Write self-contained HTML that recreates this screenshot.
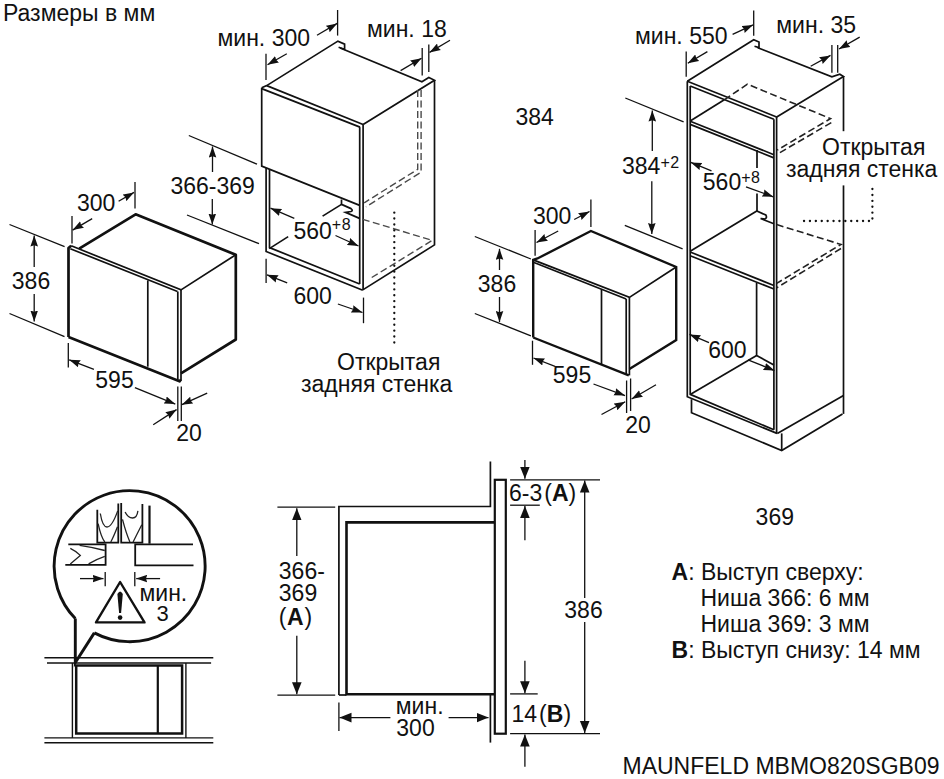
<!DOCTYPE html>
<html><head><meta charset="utf-8">
<style>
html,body{margin:0;padding:0;background:#fff;}
svg{display:block;}
text{font-family:"Liberation Sans",sans-serif;font-size:23px;fill:#111;}
tspan.s{font-size:16px;letter-spacing:0.6px;}
.t{stroke:#111;stroke-width:1.7;fill:none;}
.m{stroke:#111;stroke-width:1.3;fill:none;}
.k{stroke:#111;stroke-width:2.7;fill:none;stroke-linejoin:round;}
.d{stroke:#222;stroke-width:1.6;fill:none;stroke-dasharray:7 3.5;}
.o{stroke:#111;stroke-width:2.3;fill:none;stroke-dasharray:0.1 5.8;stroke-linecap:round;}
</style></head>
<body>
<svg width="944" height="779" viewBox="0 0 944 779">
<defs>
<marker id="a" markerUnits="userSpaceOnUse" markerWidth="12" markerHeight="8" refX="11" refY="3.8" orient="auto" viewBox="0 0 12 7.6">
<path d="M11,3.8 L0,0 L1.2,3.8 L0,7.6 Z" fill="#111"/>
</marker>
<marker id="b" markerUnits="userSpaceOnUse" markerWidth="14" markerHeight="11" refX="12" refY="4.8" orient="auto" viewBox="0 0 14 9.6">
<path d="M12,4.8 L0,0 L0,9.6 Z" fill="#111"/>
</marker>
</defs>
<!-- header -->
<text x="3" y="20.8">Размеры в мм</text>

<!-- ========== UPPER CABINET (top middle) ========== -->
<g class="t">
  <path d="M261.7,87.8 L266.7,85.6 L337.9,41.1 L344.6,44.1 L344.6,49.3 L338.6,47.3"/>
  <path d="M340.2,48 L421.9,81.7 L428.8,77.5 L434.5,80.3 L363.1,124.5"/>
  <path d="M266.7,85.6 L363.1,124.5"/>
  <path d="M261.7,88.6 L360,127.1"/>
  <path d="M261.7,87.8 V166.1 L359.7,205.4"/>
  <path d="M359.7,127.1 V284"/>
  <path d="M363.1,124.5 V289.9"/>
  <path d="M434.5,80.3 V244.9 L362.8,289.9"/>
  <path d="M266.1,168 V251.5 L362.8,290.2"/>
  <path d="M269.5,169.5 V247.6 L359.7,284"/>
  <path d="M341.5,199.5 V204.4 L351,208.6 Q353.5,210.5 351,211.5 L345.5,212.4 L359.5,218.4"/>
  <path d="M341.5,204.4 L322.6,216.1"/>
  <path d="M269.3,248.6 L288.2,236.6"/>
</g>
<g class="d" style="stroke:#4a4a4a;stroke-width:1.4">
  <path d="M417.7,90 V169.3 L364.2,202.8"/>
  <path d="M421.1,90 V172.2 L366,206.8"/>
  <path d="M362.8,219.3 L432.2,240.4 L369.3,279"/>
</g>
<path class="o" d="M394.3,212.6 V345"/>
<!-- dims upper cabinet -->
<text x="217.5" y="45.6">мин. 300</text>
<text x="367" y="36.7">мин. 18</text>
<g class="m">
  <path d="M337.6,10 V35.6"/>
  <path d="M317,35.3 L337.2,23.4" marker-end="url(#a)"/>
  <path d="M266,53.7 V80"/>
  <path d="M286.8,53.7 L267.5,64.7" marker-end="url(#a)"/>
  <path d="M422.2,47.9 V75.5"/>
  <path d="M428.8,44.5 V72"/>
  <path d="M400.6,70.6 L421.5,58.3" marker-end="url(#a)"/>
  <path d="M450,40.3 L429.5,52.4" marker-end="url(#a)"/>
  <path d="M188.8,135.5 L257,164.2"/>
  <path d="M187,215 L259,243.7"/>
  <path d="M212.5,172 V146.5" marker-end="url(#a)"/>
  <path d="M212.3,199 V224.6" marker-end="url(#a)"/>
  <path d="M294.3,218.4 L270.5,208.2" marker-end="url(#a)"/>
  <path d="M335.5,235.5 L358.5,246" marker-end="url(#a)"/>
  <path d="M266.1,258.7 V282.9"/>
  <path d="M287.2,282.9 L267,274.8" marker-end="url(#a)"/>
  <path d="M363.5,297.6 V323.2"/>
  <path d="M337.9,304 L362.5,312.5" marker-end="url(#a)"/>
</g>
<text x="170.5" y="193.8">366-369</text>
<text x="293.4" y="238.6">560<tspan class="s" dy="-9">+8</tspan></text>
<text x="293.5" y="303.5">600</text>
<text x="337" y="370">Открытая</text>
<text x="301" y="392">задняя стенка</text>

<!-- ========== LEFT MICROWAVE ========== -->
<g class="k">
  <path d="M68.5,337.1 V248 L71.2,245.8"/>
  <path d="M79.2,248.7 L135.6,214.3 L235.8,254.8 V339.5 L181,373.3"/>
  <path d="M68.5,337.1 L179.5,381.3 L181,379.5"/>
</g>
<g class="t">
  <path d="M71.2,245.8 L181,289.9 L235.8,254.8"/>
  <path d="M70.3,248.7 L177.5,291.5"/>
  <path d="M177.8,291.5 V381"/>
  <path d="M181,289.9 V380.5"/>
  <path d="M147.8,280.4 V366.7"/>
</g>
<g class="m">
  <path d="M135,182 V208.6"/>
  <path d="M118.6,201.2 L134,192.4" marker-end="url(#a)"/>
  <path d="M72,216 V243.6"/>
  <path d="M92.2,218.6 L72.6,230.1" marker-end="url(#a)"/>
  <path d="M9.5,224.5 L64.6,246.7"/>
  <path d="M9.5,313.5 L64.5,336.6"/>
  <path d="M34.2,267 V235.5" marker-end="url(#a)"/>
  <path d="M34.2,294 V321.5" marker-end="url(#a)"/>
  <path d="M68.3,343 V367.5"/>
  <path d="M93.9,369.4 L69.2,359.8" marker-end="url(#a)"/>
  <path d="M134.9,387.6 L175.3,404.1" marker-end="url(#a)"/>
  <path d="M177.8,386.5 V421"/>
  <path d="M181.3,386.5 V421"/>
  <path d="M153.2,424.7 L176.6,409.6" marker-end="url(#a)"/>
  <path d="M207.2,393.1 L181.8,404.7" marker-end="url(#a)"/>
</g>
<text x="77" y="211.2">300</text>
<text x="11.8" y="289">386</text>
<text x="95.3" y="387.7">595</text>
<text x="176.3" y="440.9">20</text>

<!-- ========== TALL CABINET ========== -->
<g class="t">
  <path d="M687.3,81.2 L753.7,39.7 L759,42 L759,47.5 L754.5,46.2"/>
  <path d="M757.7,47.7 L831.9,76.8 L839.8,74.2 L843.5,76.5 L776.3,117.2"/>
  <path d="M687.3,81.2 L776.6,117"/>
  <path d="M690.2,86 L773.9,119.3"/>
  <path d="M687.3,81.2 V396.8 L777,433.4"/>
  <path d="M690.2,86 V394.4 L773.9,429.8"/>
  <path d="M776.6,117 V433.4"/>
  <path d="M773.9,119.3 V429.8"/>
  <path d="M843.5,76.5 V131.2"/>
  <path d="M843.5,185.4 V413.9"/>
  <path d="M690.2,121.2 L773.9,154.7"/>
  <path d="M690.2,124.4 L773.9,157.9"/>
  <path d="M690.2,121 L724.3,99.8"/>
  <path d="M757,150 V168 M757,193.5 V211"/>
  <path d="M690.2,252 L773.9,285.5"/>
  <path d="M690.2,255.8 L773.9,289"/>
  <path d="M690.2,251.2 L756.8,211 L765.8,215 Q767.5,218 764.7,219 L760.6,218.5 L773.9,223.7"/>
  <path d="M756.6,283 V355.4 L773.9,365.1"/>
  <path d="M690.2,394.4 L756.6,355.4"/>
  <path d="M691.5,399.3 V412.7 L781.7,450.5 L842.5,413.9"/>
  <path d="M781.7,433.4 V450.5"/>
  <path d="M777.3,433.4 L843.5,395.6"/>
</g>
<g class="d">
  <path d="M724.3,99.8 L747.4,84.2 L830.5,118.6 L777.2,150.1"/>
  <path d="M831.3,122.6 L777.2,154.2"/>
  <path d="M776.7,224.6 L841,244.4 L776.7,283.4"/>
  <path d="M841,248.5 L776.7,287.8"/>
</g>
<path class="o" d="M804,221 H872.4 V185.6"/>
<text x="635" y="43.7">мин. 550</text>
<text x="776.3" y="33.1">мин. 35</text>
<text x="515.5" y="125.4">384</text>
<text x="622" y="173.9">384<tspan class="s" dy="-5.9">+2</tspan></text>
<text x="702.8" y="190.4">560<tspan class="s" dy="-7.6">+8</tspan></text>
<text x="822" y="155">Открытая</text>
<text x="786" y="177">задняя стенка</text>
<text x="708.2" y="357.8">600</text>
<g class="m">
  <path d="M753.7,10.6 V35.8"/>
  <path d="M732.6,34.4 L753,24.9" marker-end="url(#a)"/>
  <path d="M686.2,51.6 V76.8"/>
  <path d="M707.4,51.6 L687.8,63.3" marker-end="url(#a)"/>
  <path d="M831.9,45 V72.8"/>
  <path d="M837.7,45 V72.8"/>
  <path d="M810.7,66.2 L830.5,55.4" marker-end="url(#a)"/>
  <path d="M859.7,37.1 L839,49" marker-end="url(#a)"/>
  <path d="M625.3,98 L683.6,121.8"/>
  <path d="M624.8,225.4 L682.6,248.8"/>
  <path d="M652.3,151 V110.5" marker-end="url(#a)"/>
  <path d="M651.8,181.3 V234" marker-end="url(#a)"/>
  <path d="M711.5,170.8 L690.8,162.4" marker-end="url(#a)"/>
  <path d="M746,186.8 L773.3,196.8" marker-end="url(#a)"/>
  <path d="M709,342.7 L689.5,334.4" marker-end="url(#a)"/>
  <path d="M748,359.8 L774.5,370.6" marker-end="url(#a)"/>
</g>

<!-- ========== RIGHT MICROWAVE ========== -->
<g class="t" style="stroke-width:2.4">
  <path d="M533.2,337.5 V259.9 L537.5,258.5 L590.9,231 L676.2,267 V340.1 L629.4,369"/>
  <path d="M533.2,337.5 L628.8,375.4"/>
</g>
<g class="t">
  <path d="M533.2,259.9 L629.4,297.4 L676.2,267"/>
  <path d="M534,262.5 L626.2,299"/>
  <path d="M626.2,299 V375"/>
  <path d="M629.4,297.4 V375.4"/>
  <path d="M601.5,289.4 V364.8"/>
</g>
<g class="m">
  <path d="M474.8,236.5 L530.9,259"/>
  <path d="M474.8,313.5 L530.9,335.9"/>
  <path d="M499.5,270 V248.8" marker-end="url(#a)"/>
  <path d="M499.5,297 V322" marker-end="url(#a)"/>
  <path d="M590.9,199.6 V226.9"/>
  <path d="M574.2,219.5 L589.5,211.5" marker-end="url(#a)"/>
  <path d="M535.1,230 V255.7"/>
  <path d="M558.2,231 L536.5,242.5" marker-end="url(#a)"/>
  <path d="M532.5,340.7 V364.8"/>
  <path d="M555,366.4 L533.5,358" marker-end="url(#a)"/>
  <path d="M593.5,384 L625,395.6" marker-end="url(#a)"/>
  <path d="M626.6,380.5 V413"/>
  <path d="M630.6,378.5 V411"/>
  <path d="M601.5,414.5 L625.2,401.8" marker-end="url(#a)"/>
  <path d="M656,384.8 L631.6,399" marker-end="url(#a)"/>
</g>
<text x="477.8" y="292">386</text>
<text x="533" y="223.7">300</text>
<text x="552.8" y="383">595</text>
<text x="625.3" y="433">20</text>

<!-- ========== CALLOUT (bottom left) ========== -->
<g>
  <path d="M75.3,618.6 A75.5,75.5 0 1 1 94.3,632.9 M75.3,618.6 V662.5 L94.3,632.9" style="stroke:#111;stroke-width:2.9;fill:none;stroke-linejoin:miter"/>
</g>
<g style="stroke:#111;stroke-width:1.8;fill:none">
  <path d="M68.3,544.3 H105.6 V564.9 H65.3"/>
  <path d="M193,544.3 H135.2 V565.4 H193.5"/>
  <path d="M97.3,509.8 V542.7 H118.3 V503.5"/>
  <path d="M121.2,503 V542.7 H142.4 V504"/>
  <path d="M149.5,505.6 V543.7" style="stroke-width:2.2"/>
</g>
<g style="stroke:#222;stroke-width:1.3;fill:none">
  <path d="M70.3,548.3 Q76,551 80.3,555.4 Q76,559 70.3,563.9"/>
  <path d="M79.6,545.3 Q92,547 104.8,550.5"/>
  <path d="M88.6,563.9 Q97,559 104.8,556.4"/>
  <path d="M100.3,513.5 Q102.5,527 107,527 Q112,527 117.7,510.9"/>
  <path d="M98.1,523.6 Q101,537 104.8,542"/>
  <path d="M117.5,526.8 Q113.5,537 110.8,542"/>
  <path d="M125.1,512 Q128,518 132.6,518 Q137,518 137.9,510.9"/>
  <path d="M122.5,519.4 Q126,533 129.9,542"/>
  <path d="M141.8,524.7 Q137,534 133.1,542"/>
</g>
<g class="m">
  <path d="M80,578.6 H103.5" marker-end="url(#a)"/>
  <path d="M160.1,578.6 H136.2" marker-end="url(#a)"/>
  <path d="M105.2,571.9 V586.2"/>
  <path d="M134.8,571.9 V586.2"/>
</g>
<path d="M120.1,582 L96,622.4 H144.5 Z" style="stroke:#111;stroke-width:2.4;fill:none;stroke-linejoin:round"/>
<path d="M117.4,594 Q120.1,589 122.8,594 L121.1,613 H119.1 Z" fill="#111"/>
<circle cx="120.1" cy="617.6" r="2.3" fill="#111"/>
<text x="139.5" y="601">мин.</text>
<text x="156.6" y="620.5" style="font-size:22px">3</text>
<g style="stroke:#111;stroke-width:1.4;fill:none">
  <path d="M44.4,657.8 H213.3"/>
  <path d="M47,663 H211.1"/>
  <path d="M44.4,737.9 H213.3"/>
  <path d="M44.4,742.8 H213.3"/>
  <path d="M72.4,663 V737.9"/>
  <path d="M185.9,663 V737.9"/>
</g>
<path d="M76.2,665.6 H182.1 V733.6 H76.2 Z" style="stroke:#111;stroke-width:2.5;fill:none"/>
<path d="M157.8,665.6 V733.6" style="stroke:#111;stroke-width:2.2;fill:none"/>

<!-- ========== SECTION (bottom middle) ========== -->
<g class="t">
  <path d="M338.9,695 V506.5 H490.4 V461.4"/>
  <path d="M338.9,695 H346.5"/>
  <path d="M490.4,695 V742.6"/>
</g>
<path d="M494.2,522.4 H346.5 V694.3 H494.2" style="stroke:#111;stroke-width:2.6;fill:none"/>
<rect x="494.8" y="479.8" width="11" height="253.9" style="stroke:#111;stroke-width:2.2;fill:#fff"/>
<g class="m">
  <path d="M277.4,507.1 H335.2"/>
  <path d="M277.4,695.1 H335.2"/>
  <path d="M296.8,556 V508.3" marker-end="url(#b)"/>
  <path d="M296.8,635.7 V694.3" marker-end="url(#b)"/>
  <path d="M338.9,702.4 V731"/>
  <path d="M390.4,717.6 H339.5" marker-end="url(#b)"/>
  <path d="M448.6,717.6 H488.5" marker-end="url(#b)"/>
  <path d="M510.1,479.8 H600"/>
  <path d="M510.1,505.2 H539.8"/>
  <path d="M510.1,693.9 H537.7"/>
  <path d="M510.1,733.7 H600"/>
  <path d="M524.9,460 V478.8" marker-end="url(#b)"/>
  <path d="M524.9,540.2 V506" marker-end="url(#b)"/>
  <path d="M524.9,660.8 V693.3" marker-end="url(#b)"/>
  <path d="M524.9,766.8 V734.6" marker-end="url(#b)"/>
  <path d="M584.7,598 V480.6" marker-end="url(#b)"/>
  <path d="M584.7,622 V733" marker-end="url(#b)"/>
</g>
<text x="278.8" y="579">366-</text>
<text x="278.8" y="601.4">369</text>
<text x="278.8" y="624.6">(<tspan font-weight="bold" dx="0.5">A</tspan><tspan dx="1">)</tspan></text>
<text x="395.8" y="714">мин.</text>
<text x="396.3" y="736.3">300</text>
<text x="509" y="500.7">6-3<tspan dx="2">(</tspan><tspan font-weight="bold">A</tspan>)</text>
<text x="511.5" y="722.4">14<tspan dx="2">(</tspan><tspan font-weight="bold">B</tspan>)</text>
<text x="564.3" y="618">386</text>

<!-- ========== RIGHT TEXT ========== -->
<text x="755.6" y="525.1">369</text>
<text x="671.5" y="580.4"><tspan font-weight="bold">A</tspan>: Выступ сверху:</text>
<text x="700.5" y="606">Ниша 366: 6 мм</text>
<text x="700.5" y="631.7">Ниша 369: 3 мм</text>
<text x="671.5" y="657.6"><tspan font-weight="bold">B</tspan>: Выступ снизу: 14 мм</text>
<text x="622.5" y="774.2">MAUNFELD MBMO820SGB09</text>
</svg>
</body></html>
